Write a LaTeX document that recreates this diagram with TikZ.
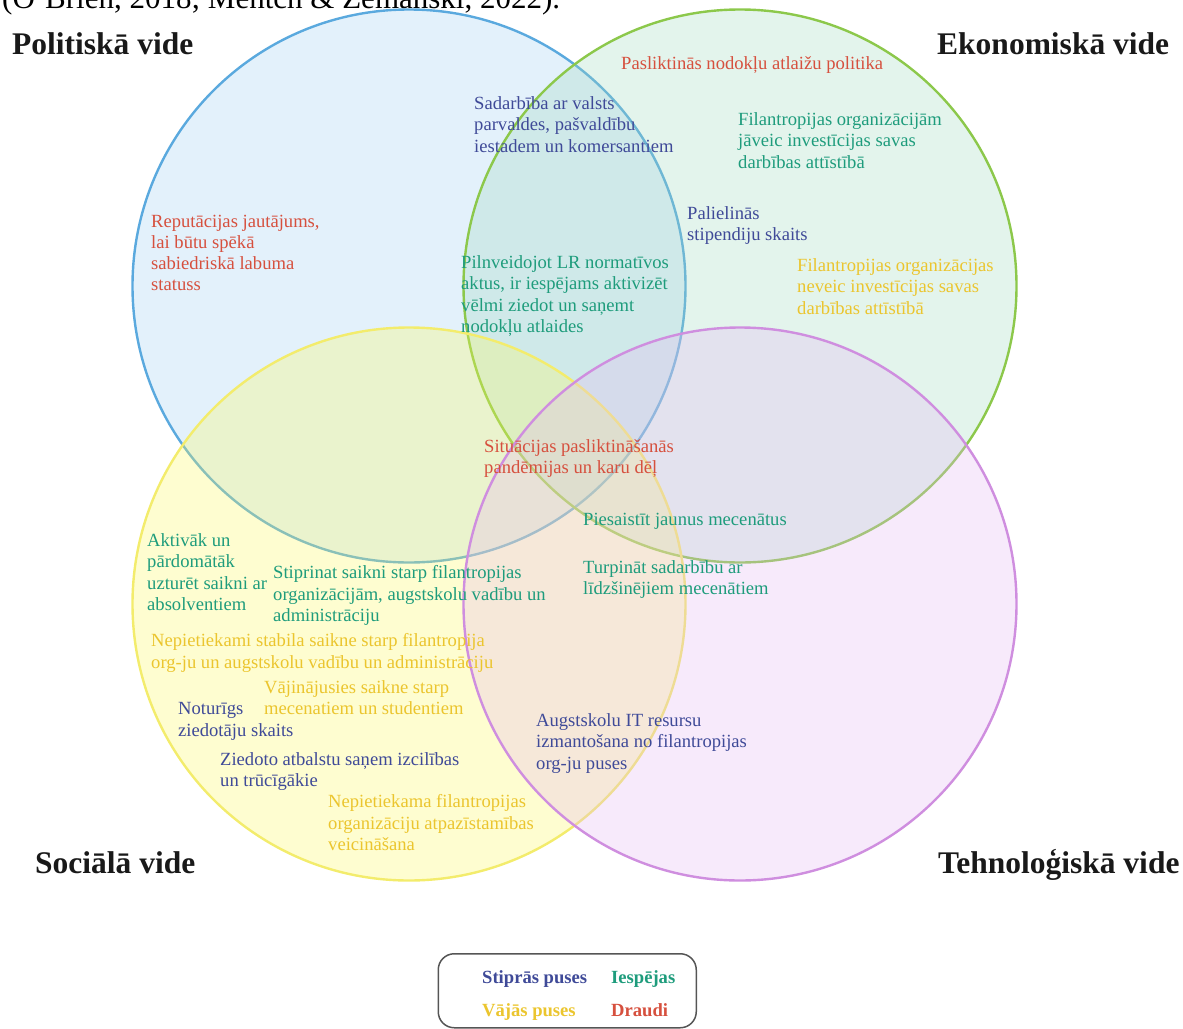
\documentclass[tikz,border=0pt]{standalone}
\usepackage{fontspec}
\setmainfont{Liberation Serif}
\definecolor{polLine}{HTML}{5AA9DE}
\definecolor{polFill}{RGB}{162,208,242}
\definecolor{ekoLine}{HTML}{8CC84B}
\definecolor{ekoFill}{RGB}{162,218,192}
\definecolor{socLine}{HTML}{F3EC6C}
\definecolor{socFill}{RGB}{252,248,98}
\definecolor{tehLine}{HTML}{CF8EDF}
\definecolor{tehFill}{RGB}{228,185,242}
\definecolor{strong}{HTML}{3F4A98}
\definecolor{chance}{HTML}{1E9C7C}
\definecolor{weak}{HTML}{EBC52E}
\definecolor{threat}{HTML}{D6503E}
\definecolor{frame}{HTML}{555555}
\begin{document}
\begin{tikzpicture}[x=1pt,y=-1pt,
  ring/.style={circle, minimum size=553pt, inner sep=0pt, outer sep=0pt,
               line width=2.4pt, fill opacity=0.3},
  note/.style={anchor=north west, inner sep=0pt, align=left, yshift=-2pt,
               font=\fontsize{18.6}{21.3}\selectfont},
  heading/.style={anchor=base west, inner sep=0pt,
               font=\fontsize{31.5}{36}\selectfont\bfseries, text=black!90},
  keytext/.style={anchor=base west, inner sep=0pt,
               font=\fontsize{18.6}{22}\selectfont\bfseries},
]
\useasboundingbox (0,0) rectangle (1183,1028);
\clip (0,0) rectangle (1183,1028);

% running text of the page, cut by the upper edge
\node[anchor=base west, inner sep=0pt, font=\fontsize{31}{36}\selectfont]
  (cite) at (2,8) {(O'Brien, 2018; Mentch \& Zemanski, 2022).};

% the four environments
\node[ring, draw=polLine, fill=polFill] (pol) at (409,286) {};
\node[ring, draw=ekoLine, fill=ekoFill] (eko) at (740,286) {};
\node[ring, draw=socLine, fill=socFill] (soc) at (409,604) {};
\node[ring, draw=tehLine, fill=tehFill] (teh) at (740,604) {};

% headings
\node[heading] (hPol) at (12,54)  {Politiskā vide};
\node[heading] (hEko) at (937,54) {Ekonomiskā vide};
\node[heading] (hSoc) at (35,873) {Sociālā vide};
\node[heading] (hTeh) at (938,873) {Tehnoloģiskā vide};

% statements
\node[note, text=threat] (t1) at (621,54.5) {Pasliktinās nodokļu atlaižu politika};
\node[note, text=strong] (s1) at (474,94.5) {Sadarbība ar valsts\\parvaldes, pašvaldību\\iestadem un komersantiem};
\node[note, text=chance] (o1) at (738,110.5) {Filantropijas organizācijām\\jāveic investīcijas savas\\darbības attīstībā};
\node[note, text=strong] (s2) at (687,204.5) {Palielinās\\stipendiju skaits};
\node[note, text=threat] (t2) at (151,212.5) {Reputācijas jautājums,\\lai būtu spēkā\\sabiedriskā labuma\\statuss};
\node[note, text=chance] (o2) at (461,253.5) {Pilnveidojot LR normatīvos\\aktus, ir iespējams aktivizēt\\vēlmi ziedot un saņemt\\nodokļu atlaides};
\node[note, text=weak] (w1) at (797,256.5) {Filantropijas organizācijas\\neveic investīcijas savas\\darbības attīstībā};
\node[note, text=threat] (t3) at (484,437.5) {Situācijas pasliktināšanās\\pandēmijas un karu dēļ};
\node[note, text=chance] (o3) at (583,510.5) {Piesaistīt jaunus mecenātus};
\node[note, text=chance] (o4) at (147,531.5) {Aktivāk un\\pārdomātāk\\uzturēt saikni ar\\absolventiem};
\node[note, text=chance] (o5) at (273,563.5) {Stiprinat saikni starp filantropijas\\organizācijām, augstskolu vadību un\\administrāciju};
\node[note, text=chance] (o6) at (583,558.5) {Turpināt sadarbību ar\\līdzšinējiem mecenātiem};
\node[note, text=weak] (w2) at (151,631.5) {Nepietiekami stabila saikne starp filantropija\\org-ju un augstskolu vadību un administrāciju};
\node[note, text=weak] (w3) at (264,678.5) {Vājinājusies saikne starp\\mecenatiem un studentiem};
\node[note, text=strong] (s3) at (178,700.5) {Noturīgs\\ziedotāju skaits};
\node[note, text=strong] (s4) at (536,711.5) {Augstskolu IT resursu\\izmantošana no filantropijas\\org-ju puses};
\node[note, text=strong] (s5) at (220,750.5) {Ziedoto atbalstu saņem izcilības\\un trūcīgākie};
\node[note, text=weak] (w4) at (328,792.5) {Nepietiekama filantropijas\\organizāciju atpazīstamības\\veicināšana};

% key
\node[draw=frame, line width=1.5pt, rounded corners=16pt, minimum width=258pt,
      minimum height=74pt, inner sep=0pt, anchor=north west] (key) at (437.5,953) {};
\node[keytext, text=strong] (kS) at (482,983)  {Stiprās puses};
\node[keytext, text=chance] (kO) at (611,983)  {Iespējas};
\node[keytext, text=weak]   (kW) at (482,1016) {Vājās puses};
\node[keytext, text=threat] (kT) at (611,1016) {Draudi};
\end{tikzpicture}
\end{document}
